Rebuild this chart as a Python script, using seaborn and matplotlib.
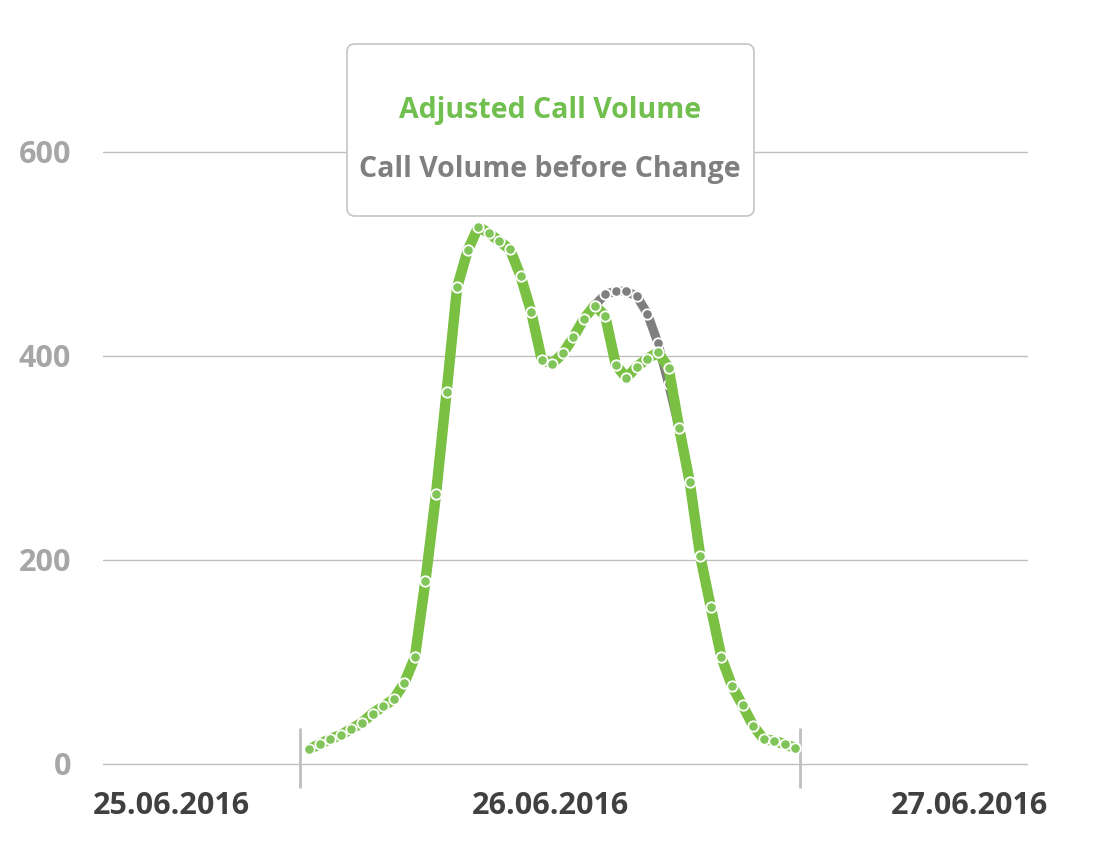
import matplotlib
matplotlib.use("Agg")
import matplotlib.pyplot as plt
from matplotlib.patches import FancyBboxPatch
from matplotlib.transforms import IdentityTransform
import seaborn as sns
import pandas as pd
import numpy as np

# half-hour slots of 26.06.2016
adjusted_calls = [14, 19, 24, 28, 34, 40, 49, 56, 63, 79, 104, 179, 264, 364, 467,
                  503, 526, 520, 512, 504, 478, 443, 396, 392, 402, 418, 436, 449,
                  439, 391, 378, 389, 397, 403, 388, 329, 276, 203, 153, 104, 76,
                  57, 37, 24, 22, 19, 15]
calls_before_change = [14, 19, 24, 28, 34, 40, 49, 56, 63, 79, 104, 179, 264, 364, 467,
                       503, 526, 520, 512, 504, 478, 443, 396, 392, 402, 418, 436, 449,
                       460, 463, 463, 458, 441, 412, 372, 329, 276, 203, 153, 104, 76,
                       57, 37, 24, 22, 19, 15]
series_names = ["Adjusted Call Volume", "Call Volume before Change"]
date_labels = ["25.06.2016", "26.06.2016", "27.06.2016"]
date_positions = [-13.0, 22.8, 62.5]
day_bounds = [-0.85, 46.45]
y_ticks = [0, 200, 400, 600]

GREEN = "#7AC143"
GREEN_TEXT = "#70BF4F"
GREY = "#7F7F7F"
GRID = "#BFBFBF"

sns.set_style("white")
plt.rcParams["font.family"] = ["Open Sans", "DejaVu Sans"]
plt.rcParams["font.weight"] = "bold"

df = pd.DataFrame({
    "slot": np.arange(len(adjusted_calls)),
    "adjusted": adjusted_calls,
    "before": calls_before_change,
})

W, H = 1100, 850
fig = plt.figure(figsize=(W / 100, H / 100), dpi=100)
fig.patch.set_facecolor("white")

# axes placed so that 0 -> y=763.5px, 600 -> y=151.5px
ymin, ymax = -5, 605
ppu = 612 / 600
bottom_px = 763.5 + (0 - ymin) * ppu
top_px = 151.5 - (ymax - 600) * ppu
ax = fig.add_axes([103 / W, 1 - bottom_px / H, (1028 - 103) / W, (bottom_px - top_px) / H])

line_kw = dict(marker="o", markersize=7.5, markeredgecolor="white",
               markeredgewidth=1.3, solid_joinstyle="round", solid_capstyle="butt")
sns.lineplot(data=df, x="slot", y="before", ax=ax, color=GREY, linewidth=6.5,
             markerfacecolor=GREY, zorder=3, **line_kw)
sns.lineplot(data=df, x="slot", y="adjusted", ax=ax, color=GREEN, linewidth=7.5,
             markerfacecolor="#80C45A", zorder=4, **line_kw)

ax.set_xlim(-19.5, 68.0)
ax.set_ylim(ymin, ymax)
ax.set_xlabel("")
ax.set_ylabel("")
for s in ax.spines.values():
    s.set_visible(False)

ax.set_yticks(y_ticks)
ax.yaxis.grid(True, color=GRID, linewidth=1)
ax.xaxis.grid(False)
ax.tick_params(axis="y", length=0, pad=23, labelsize=22, labelcolor="#A6A6A6")

ax.set_xticks(date_positions, labels=date_labels)
ax.tick_params(axis="x", length=0, pad=16, labelsize=22, labelcolor="#404040")

# day boundary markers on the category axis
ax.vlines(day_bounds, -24, 35, color=GRID, linewidth=2, clip_on=False, zorder=2)

# legend box
box = FancyBboxPatch((347, H - 216), 407, 172,
                     boxstyle="round,pad=0,rounding_size=8",
                     transform=IdentityTransform(), facecolor="white",
                     edgecolor="#C9C9C9", linewidth=1.3, zorder=10)
fig.add_artist(box)
fig.text(0.5, 1 - 118.3 / H, series_names[0], ha="center", va="baseline",
         color=GREEN_TEXT, fontsize=20.5, fontweight="bold", zorder=11)
fig.text(0.5, 1 - 176.7 / H, series_names[1], ha="center", va="baseline",
         color=GREY, fontsize=20.5, fontweight="bold", zorder=11)

fig.savefig("out.png", dpi=100, facecolor="white")
